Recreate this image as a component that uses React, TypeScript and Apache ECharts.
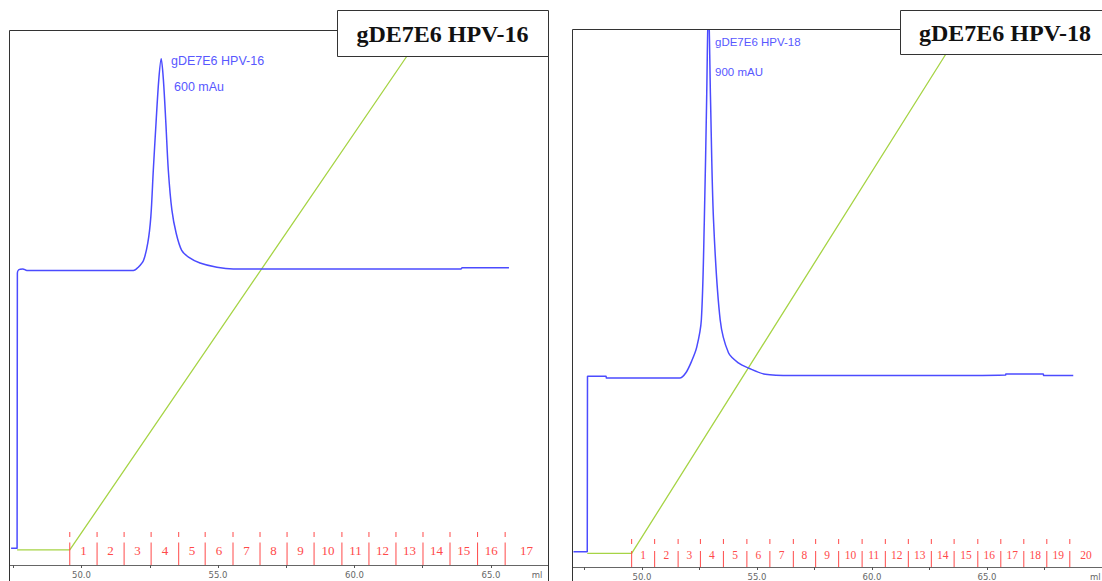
import React, { useEffect, useRef } from "react";
import * as echarts from "echarts";

// ---------- Data ----------
// Panel A: gDE7E6 HPV-16
const HPV16_ML = [47.42, 47.64, 47.65, 47.7, 47.85, 48.0, 51.9, 52.08, 52.27, 52.43, 52.54, 52.63, 52.73, 52.83, 52.92, 53.0, 53.09, 53.18, 53.31, 53.47, 53.67, 53.92, 54.34, 54.96, 55.56, 63.9, 63.95, 65.66];
const HPV16_MAU = [20, 20, 346, 350, 351, 349, 349, 353, 361, 382, 413, 468, 524, 575, 600, 575, 524, 468, 421, 393, 373, 365, 358, 353, 351, 351, 352.5, 352.5];
const GRAD16_ML = [47.64, 49.57, 62.55];
const GRAD16_B = [0, 0, 100];
const FRAC16 = [49.57, 50.57, 51.56, 52.55, 53.56, 54.53, 55.55, 56.54, 57.53, 58.52, 59.54, 60.53, 61.52, 62.51, 63.5, 64.51, 65.52];
const FRAC16_LABELS = ["1", "2", "3", "4", "5", "6", "7", "8", "9", "10", "11", "12", "13", "14", "15", "16", "17"];

// Panel B: gDE7E6 HPV-18
const HPV18_ML = [47.02, 47.62, 47.63, 48.44, 48.45, 51.64, 51.9, 52.16, 52.38, 52.58, 52.71, 52.81, 52.89, 52.98, 53.11, 53.4, 53.76, 54.19, 54.62, 55.36, 56.52, 62.31, 62.32, 65.81, 65.82, 67.45, 67.46, 68.75];
const HPV18_MAU = [24, 24, 302, 302, 299, 299, 307, 326, 348, 391, 549, 739, 900, 739, 549, 391, 339, 323, 315, 305, 303, 303, 304, 304, 305.5, 305.5, 303, 303];
const GRAD18_ML = [47.62, 49.55, 63.87];
const GRAD18_B = [0, 0, 100];
const FRAC18 = [49.55, 50.55, 51.57, 52.54, 53.54, 54.56, 55.56, 56.58, 57.55, 58.55, 59.57, 60.58, 61.58, 62.58, 63.57, 64.6, 65.6, 66.6, 67.6, 68.6];
const FRAC18_LABELS = ["1", "2", "3", "4", "5", "6", "7", "8", "9", "10", "11", "12", "13", "14", "15", "16", "17", "18", "19", "20"];

const TICKS16 = [47.5, 50, 52.5, 55, 57.5, 60, 62.5, 65];
const TICKS18 = [47.5, 50, 52.5, 55, 57.5, 60, 62.5, 65, 67.5];
const LABELS_ML = [50, 55, 60, 65];

const X16 = { min: 47.38, max: 67.09 };
const X18 = { min: 47.0, max: 70.0 };

// ---------- Styles ----------
const BLUE = "#4b4bff";
const GREEN = "#a6d445";
const RED = "#ff4a4a";
const LABEL_BLUE = "#5858ff";

function zip(a: number[], b: number[]) {
  return a.map((v, i) => [v, b[i]]);
}

function xAxisCfg(gridIndex: number, range: { min: number; max: number }, ticks: number[]) {
  return {
    type: "value",
    gridIndex,
    min: range.min,
    max: range.max,
    axisLine: { show: true, lineStyle: { color: "#666", width: 1 } },
    axisTick: { show: true, length: 3, customValues: ticks, lineStyle: { color: "#555" } },
    axisLabel: {
      show: true,
      customValues: LABELS_ML,
      formatter: (v: number) => v.toFixed(1),
      fontSize: 8.5,
      color: "#666",
      fontFamily: "DejaVu Sans",
      margin: 5,
    },
    splitLine: { show: false },
  };
}

function hiddenY(gridIndex: number, min: number, max: number) {
  return { type: "value", gridIndex, min, max, show: false, splitLine: { show: false } };
}

function fracMarks(xAxisIndex: number, yAxisIndex: number, bounds: number[], d: { top: number; dashEnd: number; solidTop: number }) {
  return {
    type: "custom",
    xAxisIndex,
    yAxisIndex,
    silent: true,
    clip: false,
    z: 3,
    data: bounds.map((b) => [b, 0]),
    encode: { x: 0, y: 1 },
    renderItem: (_p: any, api: any) => {
      const p = api.coord([api.value(0), 0]);
      return {
        type: "group",
        children: [
          { type: "line", shape: { x1: p[0], y1: p[1] - d.top, x2: p[0], y2: p[1] - d.dashEnd }, style: { stroke: RED, lineWidth: 1 } },
          { type: "line", shape: { x1: p[0], y1: p[1] - d.solidTop, x2: p[0], y2: p[1] }, style: { stroke: RED, lineWidth: 1 } },
        ],
      };
    },
  };
}

function fracLabels(xAxisIndex: number, yAxisIndex: number, bounds: number[], labels: string[], axisMax: number, off: number, size: number) {
  const data = bounds.map((b, i) => {
    const next = i + 1 < bounds.length ? bounds[i + 1] : axisMax;
    return [(b + next) / 2, 0, labels[i]];
  });
  return {
    type: "custom",
    xAxisIndex,
    yAxisIndex,
    silent: true,
    clip: false,
    z: 3,
    data,
    encode: { x: 0, y: 1 },
    renderItem: (params: any, api: any) => {
      const p = api.coord([api.value(0), 0]);
      return {
        type: "text",
        x: p[0],
        y: p[1] - off,
        style: {
          text: data[params.dataIndex][2] as string,
          fill: RED,
          font: `${size}px "Liberation Serif"`,
          align: "center",
          verticalAlign: "middle",
        },
      };
    },
  };
}

function titleBox(x: number, y: number, w: number, h: number, text: string) {
  return {
    type: "group",
    z: 100,
    children: [
      { type: "rect", shape: { x: x + 0.5, y: y + 0.5, width: w, height: h }, style: { fill: "#fff", stroke: "#333", lineWidth: 1 }, z: 100 },
      {
        type: "text",
        x: x + w / 2,
        y: y + h / 2 + 1,
        z: 101,
        style: { text, fill: "#111", font: 'bold 24px "Liberation Serif"', align: "center", verticalAlign: "middle" },
      },
    ],
  };
}

export default function App() {
  const ref = useRef<HTMLDivElement>(null);
  useEffect(() => {
    const chart = echarts.init(ref.current!, null, { renderer: "svg" });
    const option: any = {
      animation: false,
      backgroundColor: "#fff",
      grid: [
        { left: 10, top: 31, width: 538, height: 534 },
        { left: 573, top: 30, width: 533, height: 537 },
      ],
      xAxis: [xAxisCfg(0, X16, TICKS16), xAxisCfg(1, X18, TICKS18)],
      yAxis: [hiddenY(0, 0, 633), hiddenY(0, -2.9, 100), hiddenY(1, 0, 850), hiddenY(1, -2.6, 100)],
      series: [
        { type: "line", xAxisIndex: 0, yAxisIndex: 1, data: zip(GRAD16_ML, GRAD16_B), showSymbol: false, lineStyle: { color: GREEN, width: 1.3 }, z: 2 },
        { type: "line", xAxisIndex: 0, yAxisIndex: 0, data: zip(HPV16_ML, HPV16_MAU), showSymbol: false, smooth: 0.3, lineStyle: { color: BLUE, width: 1.5 }, z: 4 },
        { type: "line", xAxisIndex: 1, yAxisIndex: 3, data: zip(GRAD18_ML, GRAD18_B), showSymbol: false, lineStyle: { color: GREEN, width: 1.3 }, z: 2 },
        { type: "line", xAxisIndex: 1, yAxisIndex: 2, data: zip(HPV18_ML, HPV18_MAU), showSymbol: false, smooth: 0.3, lineStyle: { color: BLUE, width: 1.5 }, z: 4 },
        fracMarks(0, 0, FRAC16, { top: 33, dashEnd: 28, solidTop: 22.5 }),
        fracLabels(0, 0, FRAC16, FRAC16_LABELS, X16.max, 15, 13),
        fracMarks(1, 2, FRAC18, { top: 28, dashEnd: 23, solidTop: 16 }),
        fracLabels(1, 2, FRAC18, FRAC18_LABELS, X18.max, 12.5, 11.5),
      ],
      graphic: [
        { type: "rect", z: 90, shape: { x: 9.5, y: 30.5, width: 539, height: 600 }, style: { fill: "none", stroke: "#333", lineWidth: 1 } },
        { type: "rect", z: 90, shape: { x: 572.5, y: 29.5, width: 540, height: 600 }, style: { fill: "none", stroke: "#333", lineWidth: 1 } },
        titleBox(337, 10, 211, 46, "gDE7E6 HPV-16"),
        titleBox(900, 10, 210, 44, "gDE7E6 HPV-18"),
        { type: "text", z: 50, x: 171, y: 61, style: { text: "gDE7E6 HPV-16", fill: LABEL_BLUE, font: '12.5px "Liberation Sans"', verticalAlign: "middle" } },
        { type: "text", z: 50, x: 174, y: 87, style: { text: "600 mAu", fill: LABEL_BLUE, font: '12.5px "Liberation Sans"', verticalAlign: "middle" } },
        { type: "text", z: 50, x: 715, y: 42, style: { text: "gDE7E6 HPV-18", fill: LABEL_BLUE, font: '11.5px "Liberation Sans"', verticalAlign: "middle" } },
        { type: "text", z: 50, x: 715, y: 72, style: { text: "900 mAU", fill: LABEL_BLUE, font: '11.5px "Liberation Sans"', verticalAlign: "middle" } },
        { type: "text", z: 50, x: 537, y: 575, style: { text: "ml", fill: "#666", font: '8.5px "DejaVu Sans"', align: "center", verticalAlign: "middle" } },
        { type: "text", z: 50, x: 1090, y: 577, style: { text: "ml", fill: "#666", font: '8.5px "DejaVu Sans"', align: "left", verticalAlign: "middle" } },
      ],
    };
    chart.setOption(option);
    return () => chart.dispose();
  }, []);
  return <div ref={ref} style={{ position: "fixed", left: 0, top: 0, width: 1102, height: 581, background: "#fff" }} />;
}
